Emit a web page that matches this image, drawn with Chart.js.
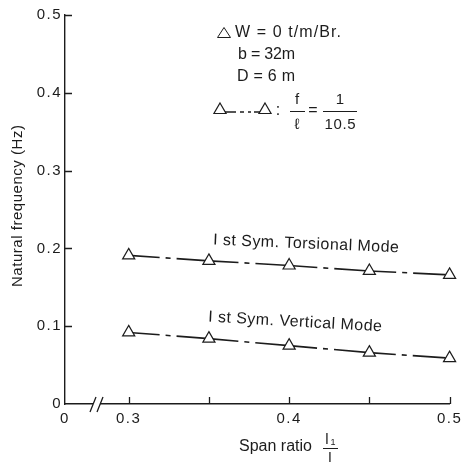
<!DOCTYPE html>
<html>
<head>
<meta charset="utf-8">
<title>Natural frequency vs span ratio</title>
<script src="https://cdn.jsdelivr.net/npm/chart.js@4.4.1/dist/chart.umd.min.js"></script>
<style>
  html, body { margin: 0; padding: 0; background: #fff; }
  #myChart { display: block; }
</style>
</head>
<body>
<canvas id="myChart" width="466" height="462"></canvas>
<script>
// data
const spanRatio = [0.3, 0.35, 0.4, 0.45, 0.5];
const torsionalFreq = [0.191, 0.184, 0.178, 0.171, 0.166];
const verticalFreq = [0.092, 0.084, 0.075, 0.066, 0.059];

// axes
const yTicks = [0, 0.1, 0.2, 0.3, 0.4, 0.5];
const xTicks = [0.3, 0.35, 0.4, 0.45, 0.5];
const xLabelled = [0.3, 0.4, 0.5];
const xAxisStart = 0.2603;   // broken axis: left end is labelled "0"

const INK = '#1c1c1c';
const FONT = "'Liberation Sans', Arial, Helvetica, sans-serif";

const toPoints = (xs, ys) => xs.map((v, i) => ({ x: v, y: ys[i] }));

// draw a text, stretched with letter spacing to a given width
function fitText(ctx, s, x, y, size, width, align = 'left', angle = 0) {
    ctx.save();
    ctx.font = `${size}px ${FONT}`;
    ctx.letterSpacing = '0px';
    const w = ctx.measureText(s).width;
    const sp = width ? Math.max(-1, (width - w) / Math.max(1, s.length - 1)) : 0;
    ctx.letterSpacing = sp + 'px';
    ctx.translate(x, y);
    ctx.rotate(angle);
    ctx.textAlign = align;
    ctx.textBaseline = 'middle';
    ctx.fillText(s, align === 'center' ? sp / 2 : 0, 0);
    ctx.restore();
}

function triangle(ctx, cx, cy, r) {
    const h = r * Math.sin(Math.PI / 3);
    ctx.beginPath();
    ctx.moveTo(cx, cy - r);
    ctx.lineTo(cx + h, cy + r / 2);
    ctx.lineTo(cx - h, cy + r / 2);
    ctx.closePath();
    ctx.fillStyle = '#fff';
    ctx.fill();
    ctx.stroke();
}

const figureExtras = {
    id: 'figureExtras',
    beforeDraw(chart) {
        chart.ctx.letterSpacing = '1.5px';
    },
    afterDraw(chart) {
        const { ctx, scales: { x, y } } = chart;
        ctx.letterSpacing = '0px';
        ctx.save();
        ctx.strokeStyle = INK;
        ctx.fillStyle = INK;
        ctx.lineWidth = 1.3;

        // inward tick marks
        ctx.beginPath();
        yTicks.forEach(v => {
            if (v === 0) return;
            const py = Math.round(y.getPixelForValue(v)) + 0.5;
            ctx.moveTo(x.left, py);
            ctx.lineTo(x.left + 7, py);
        });
        xTicks.forEach(v => {
            const px = Math.round(x.getPixelForValue(v)) + 0.5;
            ctx.moveTo(px, y.bottom);
            ctx.lineTo(px, y.bottom - 7);
        });
        ctx.stroke();

        // axis break
        const bx = x.left + 31;
        ctx.fillStyle = '#fff';
        ctx.fillRect(bx - 3, y.bottom - 3, 7, 6);
        ctx.fillStyle = INK;
        ctx.beginPath();
        ctx.moveTo(bx - 6, y.bottom + 8); ctx.lineTo(bx, y.bottom - 7);
        ctx.moveTo(bx + 1, y.bottom + 8); ctx.lineTo(bx + 7, y.bottom - 7);
        ctx.stroke();

        // axis titles
        fitText(ctx, 'Natural frequency (Hz)', 18, 206, 15, 162, 'center', -Math.PI / 2);
        fitText(ctx, 'Span ratio', 239, 447, 16, 73);
        fitText(ctx, 'l', 327, 440, 15, 0, 'center');
        fitText(ctx, '1', 333, 443, 9, 0, 'center');
        ctx.lineWidth = 1;
        ctx.beginPath(); ctx.moveTo(323, 448.5); ctx.lineTo(338, 448.5); ctx.stroke();
        fitText(ctx, 'l', 330, 459, 15, 0, 'center');

        // curve labels
        fitText(ctx, 'I st Sym. Torsional Mode', 306, 244, 16, 186, 'center', 2.4 * Math.PI / 180);
        fitText(ctx, 'I st Sym. Vertical Mode', 295, 322, 16, 174, 'center', 3.2 * Math.PI / 180);

        // parameter block
        ctx.lineWidth = 1;
        ctx.beginPath();
        ctx.moveTo(224, 27.5); ctx.lineTo(230.5, 37.5); ctx.lineTo(217.5, 37.5); ctx.closePath();
        ctx.stroke();
        fitText(ctx, 'W = 0 t/m/Br.', 235, 33, 16, 106);
        fitText(ctx, 'b = 32m', 238, 55, 16, 57);
        fitText(ctx, 'D = 6 m', 237, 77, 16, 58);

        // legend sample: triangle, dash-dot, triangle
        ctx.lineWidth = 1.6;
        ctx.beginPath();
        [[225, 236], [240, 244], [248, 251], [254, 262]].forEach(([a, b]) => {
            ctx.moveTo(a, 112); ctx.lineTo(b, 112);
        });
        ctx.stroke();
        ctx.lineWidth = 1.2;
        triangle(ctx, 220, 110, 7);
        triangle(ctx, 265, 110, 7);
        ctx.fillStyle = INK;
        fitText(ctx, ':', 278, 111, 16, 0, 'center');
        fitText(ctx, 'f', 297, 100, 15, 0, 'center');
        fitText(ctx, 'ℓ', 297, 125, 15, 0, 'center');
        fitText(ctx, '=', 313, 111, 16, 0, 'center');
        fitText(ctx, '1', 340, 100, 15, 0, 'center');
        fitText(ctx, '10.5', 340, 125, 15, 31, 'center');
        ctx.lineWidth = 1;
        ctx.beginPath();
        ctx.moveTo(290, 111.5); ctx.lineTo(305, 111.5);
        ctx.moveTo(323, 111.5); ctx.lineTo(357, 111.5);
        ctx.stroke();
        ctx.restore();
    }
};

const seriesStyle = {
    borderColor: INK,
    borderWidth: 1.6,
    borderDash: [62, 6, 5, 6],
    borderDashOffset: 31,
    tension: 0,
    fill: false,
    clip: false,
    pointStyle: 'triangle',
    pointRadius: 7,
    pointHoverRadius: 7,
    pointBackgroundColor: '#fff',
    pointBorderColor: INK,
    pointBorderWidth: 1.2
};

new Chart(document.getElementById('myChart'), {
    type: 'line',
    data: {
        datasets: [
            { label: '1st Sym. Torsional Mode', data: toPoints(spanRatio, torsionalFreq), ...seriesStyle },
            { label: '1st Sym. Vertical Mode', data: toPoints(spanRatio, verticalFreq), ...seriesStyle }
        ]
    },
    options: {
        responsive: false,
        animation: false,
        devicePixelRatio: 1,
        layout: { padding: { top: 15, right: 14, left: 0, bottom: 0 } },
        plugins: {
            legend: { display: false },
            tooltip: { enabled: false },
            title: { display: false }
        },
        scales: {
            x: {
                type: 'linear',
                min: xAxisStart,
                max: 0.5,
                afterFit(scale) { scale.height = 58; },
                afterBuildTicks(scale) {
                    scale.ticks = [xAxisStart, ...xTicks].map(v => ({ value: v }));
                },
                grid: { display: false, drawTicks: false },
                border: { display: true, color: INK, width: 1.4 },
                ticks: {
                    autoSkip: false,
                    maxRotation: 0,
                    padding: 6,
                    color: INK,
                    font: { family: FONT, size: 15 },
                    callback: v => v === xAxisStart ? '0' :
                        (xLabelled.some(t => Math.abs(t - v) < 1e-9) ? v.toFixed(1) : '')
                }
            },
            y: {
                min: 0,
                max: 0.5,
                afterFit(scale) { scale.width = 65; },
                afterBuildTicks(scale) {
                    scale.ticks = yTicks.map(v => ({ value: v }));
                },
                grid: { display: false, drawTicks: false },
                border: { display: true, color: INK, width: 1.4 },
                ticks: {
                    padding: 3,
                    color: INK,
                    font: { family: FONT, size: 15 },
                    callback: v => v === 0 ? '0' : v.toFixed(1)
                }
            }
        }
    },
    plugins: [figureExtras]
});
</script>
</body>
</html>
